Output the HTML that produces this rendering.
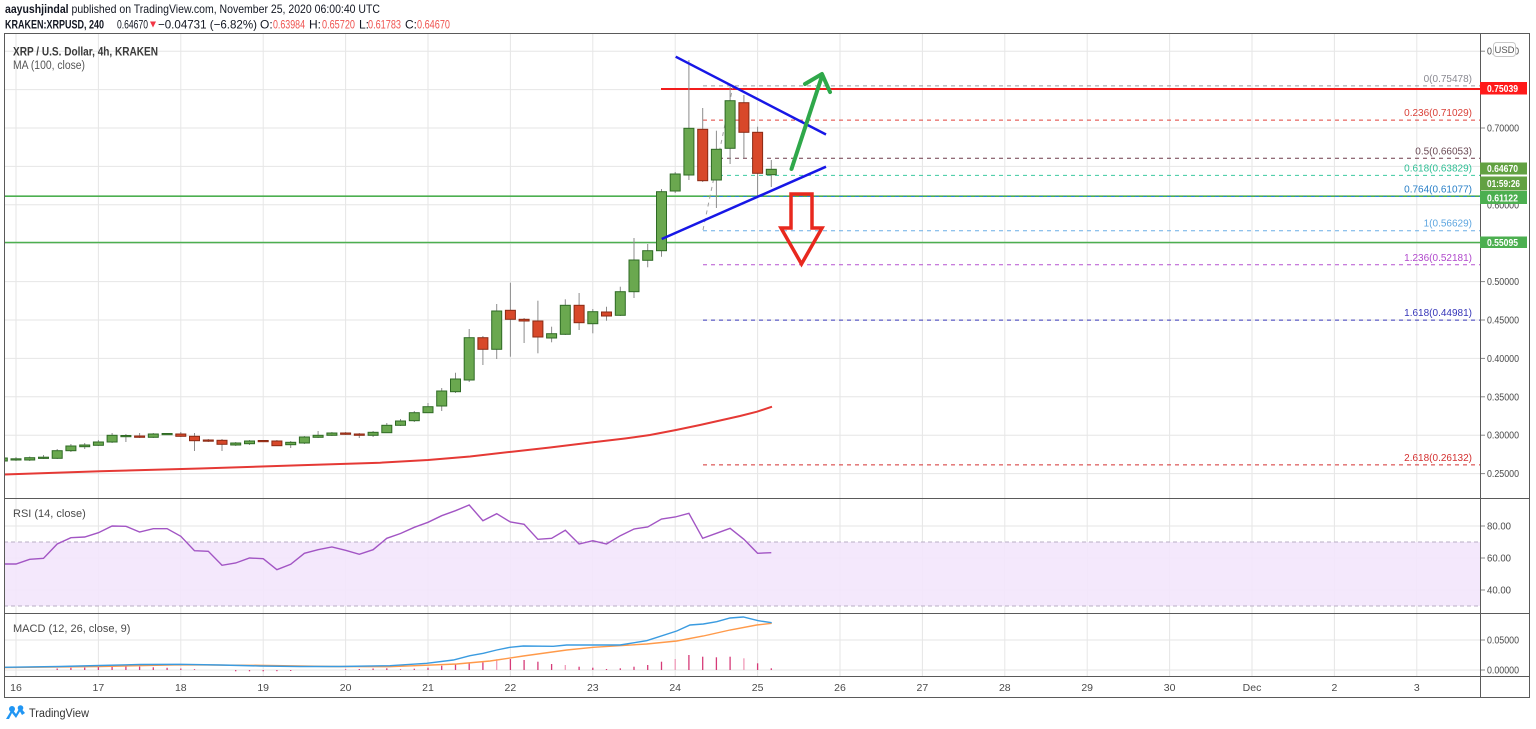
<!DOCTYPE html>
<html><head><meta charset="utf-8"><style>
html,body{margin:0;padding:0;background:#fff;}
svg{display:block;font-family:"Liberation Sans",sans-serif;}
.g line,.r line{stroke:#8c8c8c;stroke-width:1}
.g rect{fill:#6aa84f;stroke:#2f6a25;stroke-width:1}
.r rect{fill:#d8482a;stroke:#8a2a14;stroke-width:1}
.ax{font-size:10px;fill:#4a4a4a}
.xl{font-size:10.5px;fill:#4a4a4a;text-anchor:middle}
.fl{font-size:10px;text-anchor:end}
.bx{font-size:10px;fill:#fff;font-weight:bold}
</style></head><body>
<svg width="1536" height="729" viewBox="0 0 1536 729" xmlns="http://www.w3.org/2000/svg">
<rect width="1536" height="729" fill="#fff"/>
<defs><clipPath id="cm"><rect x="4" y="33" width="1476" height="465"/></clipPath>
<clipPath id="cr"><rect x="4" y="498" width="1476" height="115"/></clipPath>
<clipPath id="cd"><rect x="4" y="613" width="1476" height="63"/></clipPath></defs>

<!-- header -->
<text x="5" y="13" font-size="12" fill="#131722" textLength="375" lengthAdjust="spacingAndGlyphs"><tspan font-weight="bold">aayushjindal</tspan> published on TradingView.com, November 25, 2020 06:00:40 UTC</text>
<text x="5" y="28.5" font-size="12" font-weight="bold" fill="#131722" textLength="99" lengthAdjust="spacingAndGlyphs">KRAKEN:XRPUSD, 240</text>
<text x="117" y="28.5" font-size="12" fill="#131722" textLength="31" lengthAdjust="spacingAndGlyphs">0.64670</text>
<polygon points="150,21.5 156,21.5 153,27.5" fill="#f23645"/>
<text x="158" y="28.5" font-size="12" fill="#131722" textLength="99" lengthAdjust="spacingAndGlyphs">−0.04731 (−6.82%)</text>
<text x="260" y="28.5" font-size="12" fill="#131722">O:</text>
<text x="273" y="28.5" font-size="12" fill="#ef5350" textLength="32" lengthAdjust="spacingAndGlyphs">0.63984</text>
<text x="309" y="28.5" font-size="12" fill="#131722">H:</text>
<text x="322" y="28.5" font-size="12" fill="#ef5350" textLength="33" lengthAdjust="spacingAndGlyphs">0.65720</text>
<text x="359" y="28.5" font-size="12" fill="#131722">L:</text>
<text x="368" y="28.5" font-size="12" fill="#ef5350" textLength="33" lengthAdjust="spacingAndGlyphs">0.61783</text>
<text x="405" y="28.5" font-size="12" fill="#131722">C:</text>
<text x="417" y="28.5" font-size="12" fill="#ef5350" textLength="33" lengthAdjust="spacingAndGlyphs">0.64670</text>

<!-- grid -->
<g stroke="#e6e6e6" stroke-width="1">
<line x1="4" x2="1480" y1="51.2" y2="51.2"/><line x1="4" x2="1480" y1="89.6" y2="89.6"/><line x1="4" x2="1480" y1="128" y2="128"/><line x1="4" x2="1480" y1="166.4" y2="166.4"/><line x1="4" x2="1480" y1="204.8" y2="204.8"/><line x1="4" x2="1480" y1="243.2" y2="243.2"/><line x1="4" x2="1480" y1="281.6" y2="281.6"/><line x1="4" x2="1480" y1="320" y2="320"/><line x1="4" x2="1480" y1="358.4" y2="358.4"/><line x1="4" x2="1480" y1="396.8" y2="396.8"/><line x1="4" x2="1480" y1="435.2" y2="435.2"/><line x1="4" x2="1480" y1="473.6" y2="473.6"/>
<line x1="4" x2="1480" y1="526" y2="526"/><line x1="4" x2="1480" y1="558" y2="558"/><line x1="4" x2="1480" y1="590" y2="590"/>
<line x1="4" x2="1480" y1="640" y2="640"/><line x1="4" x2="1480" y1="670" y2="670"/>
<line x1="16" x2="16" y1="33" y2="676"/><line x1="98.4" x2="98.4" y1="33" y2="676"/><line x1="180.8" x2="180.8" y1="33" y2="676"/><line x1="263.2" x2="263.2" y1="33" y2="676"/><line x1="345.6" x2="345.6" y1="33" y2="676"/><line x1="428" x2="428" y1="33" y2="676"/><line x1="510.4" x2="510.4" y1="33" y2="676"/><line x1="592.8" x2="592.8" y1="33" y2="676"/><line x1="675.2" x2="675.2" y1="33" y2="676"/><line x1="757.6" x2="757.6" y1="33" y2="676"/><line x1="840" x2="840" y1="33" y2="676"/><line x1="922.4" x2="922.4" y1="33" y2="676"/><line x1="1004.8" x2="1004.8" y1="33" y2="676"/><line x1="1087.2" x2="1087.2" y1="33" y2="676"/><line x1="1169.6" x2="1169.6" y1="33" y2="676"/><line x1="1252" x2="1252" y1="33" y2="676"/><line x1="1334.4" x2="1334.4" y1="33" y2="676"/><line x1="1416.8" x2="1416.8" y1="33" y2="676"/>
</g>

<!-- RSI band -->
<rect x="4" y="542" width="1476" height="64" fill="#f3e5fc" opacity="0.9"/>
<g stroke="#b9aec4" stroke-width="1" stroke-dasharray="4,3"><line x1="4" x2="1480" y1="542" y2="542"/><line x1="4" x2="1480" y1="606" y2="606"/></g>

<!-- main chart content -->
<g clip-path="url(#cm)">
<!-- MA -->
<polyline fill="none" stroke="#e53935" stroke-width="2" points="4,474.5 100,471.3 200,468.5 300,465.3 380,462.7 428,460 470,456.5 512,451.7 550,447.5 593,442.3 625,438.5 650,435 676,430 700,425 720,420.5 740,416 757,411.7 772,406.7"/>
<!-- horizontal lines -->
<line x1="4" x2="1480" y1="196.2" y2="196.2" stroke="#4caf50" stroke-width="1.6"/>
<line x1="4" x2="1480" y1="242.5" y2="242.5" stroke="#4caf50" stroke-width="1.6"/>
<line x1="661" x2="1480" y1="89" y2="89" stroke="#f21c1c" stroke-width="2"/>
<!-- fib -->
<g stroke-width="1" stroke-dasharray="4,4">
<line x1="703" x2="1480" y1="85.9" y2="85.9" stroke="#9a9aa2"/>
<line x1="703" x2="1480" y1="120.1" y2="120.1" stroke="#e0403a"/>
<line x1="703" x2="1480" y1="158.3" y2="158.3" stroke="#6e3b4a"/>
<line x1="703" x2="1480" y1="175.4" y2="175.4" stroke="#3cc9a0"/>
<line x1="703" x2="1480" y1="196.5" y2="196.5" stroke="#2b86d0"/>
<line x1="703" x2="1480" y1="230.7" y2="230.7" stroke="#6aaee6"/>
<line x1="703" x2="1480" y1="264.8" y2="264.8" stroke="#b552d0"/>
<line x1="703" x2="1480" y1="320.1" y2="320.1" stroke="#3535b8"/>
<line x1="703" x2="1480" y1="464.9" y2="464.9" stroke="#d43030"/>
<line x1="703" x2="733" y1="230" y2="86" stroke="#a0a0a0"/>
</g>
<g>
<text class="fl" x="1472" y="82" fill="#8a8a92">0(0.75478)</text>
<text class="fl" x="1472" y="116" fill="#d94038">0.236(0.71029)</text>
<text class="fl" x="1472" y="154.3" fill="#6b4a55">0.5(0.66053)</text>
<text class="fl" x="1472" y="171.4" fill="#2fbf95">0.618(0.63829)</text>
<text class="fl" x="1472" y="192.5" fill="#2a80c8">0.764(0.61077)</text>
<text class="fl" x="1472" y="226.7" fill="#5ea6e0">1(0.56629)</text>
<text class="fl" x="1472" y="260.8" fill="#b048cc">1.236(0.52181)</text>
<text class="fl" x="1472" y="316.1" fill="#3535b8">1.618(0.44981)</text>
<text class="fl" x="1472" y="460.9" fill="#d43030">2.618(0.26132)</text>
</g>
<!-- candles -->
<g class="g"><line x1="2.3" x2="2.3" y1="457" y2="462"/><rect x="-2.7" y="458" width="10" height="3"/></g>
<g class="g"><line x1="16" x2="16" y1="457" y2="461"/><rect x="11" y="458.8" width="10" height="1.2"/></g>
<g class="g"><line x1="29.7" x2="29.7" y1="456.5" y2="461"/><rect x="24.7" y="457.7" width="10" height="2.3"/></g>
<g class="g"><line x1="43.5" x2="43.5" y1="455" y2="459"/><rect x="38.5" y="457.2" width="10" height="1.2"/></g>
<g class="g"><line x1="57.2" x2="57.2" y1="449" y2="459"/><rect x="52.2" y="450.7" width="10" height="7.6"/></g>
<g class="g"><line x1="70.9" x2="70.9" y1="444" y2="452"/><rect x="65.9" y="446" width="10" height="4.7"/></g>
<g class="g"><line x1="84.7" x2="84.7" y1="443" y2="449"/><rect x="79.7" y="445" width="10" height="1.7"/></g>
<g class="g"><line x1="98.4" x2="98.4" y1="440" y2="446"/><rect x="93.4" y="442" width="10" height="3.3"/></g>
<g class="g"><line x1="112.1" x2="112.1" y1="433" y2="443"/><rect x="107.1" y="435.3" width="10" height="6.7"/></g>
<g class="g"><line x1="125.9" x2="125.9" y1="434" y2="442"/><rect x="120.9" y="435.5" width="10" height="1.2"/></g>
<g class="r"><line x1="139.6" x2="139.6" y1="433" y2="438"/><rect x="134.6" y="436" width="10" height="1.3"/></g>
<g class="g"><line x1="153.3" x2="153.3" y1="433" y2="438"/><rect x="148.3" y="434" width="10" height="3.3"/></g>
<g class="g"><line x1="167.1" x2="167.1" y1="433" y2="435"/><rect x="162.1" y="433.5" width="10" height="1.2"/></g>
<g class="r"><line x1="180.8" x2="180.8" y1="432" y2="437"/><rect x="175.8" y="434" width="10" height="2.3"/></g>
<g class="r"><line x1="194.5" x2="194.5" y1="433" y2="451"/><rect x="189.5" y="436.3" width="10" height="4.4"/></g>
<g class="r"><line x1="208.3" x2="208.3" y1="439" y2="442"/><rect x="203.3" y="440" width="10" height="1.2"/></g>
<g class="r"><line x1="222" x2="222" y1="439" y2="451"/><rect x="217" y="440.3" width="10" height="4"/></g>
<g class="g"><line x1="235.7" x2="235.7" y1="442" y2="446"/><rect x="230.7" y="443" width="10" height="2"/></g>
<g class="g"><line x1="249.5" x2="249.5" y1="440" y2="445"/><rect x="244.5" y="441" width="10" height="2.7"/></g>
<g class="r"><line x1="263.2" x2="263.2" y1="440" y2="442"/><rect x="258.2" y="440.5" width="10" height="1.2"/></g>
<g class="r"><line x1="276.9" x2="276.9" y1="440" y2="446"/><rect x="271.9" y="441" width="10" height="4.7"/></g>
<g class="g"><line x1="290.7" x2="290.7" y1="441" y2="448"/><rect x="285.7" y="442.3" width="10" height="2.4"/></g>
<g class="g"><line x1="304.4" x2="304.4" y1="436" y2="444"/><rect x="299.4" y="437" width="10" height="6"/></g>
<g class="g"><line x1="318.1" x2="318.1" y1="431" y2="438"/><rect x="313.1" y="435.3" width="10" height="2"/></g>
<g class="g"><line x1="331.9" x2="331.9" y1="432" y2="436"/><rect x="326.9" y="433" width="10" height="2.3"/></g>
<g class="r"><line x1="345.6" x2="345.6" y1="432" y2="435"/><rect x="340.6" y="433" width="10" height="1.3"/></g>
<g class="r"><line x1="359.3" x2="359.3" y1="433" y2="438"/><rect x="354.3" y="434" width="10" height="1.3"/></g>
<g class="g"><line x1="373.1" x2="373.1" y1="431" y2="437"/><rect x="368.1" y="432.3" width="10" height="3"/></g>
<g class="g"><line x1="386.8" x2="386.8" y1="423" y2="433"/><rect x="381.8" y="425.3" width="10" height="7.4"/></g>
<g class="g"><line x1="400.5" x2="400.5" y1="419" y2="426"/><rect x="395.5" y="421" width="10" height="4.3"/></g>
<g class="g"><line x1="414.3" x2="414.3" y1="411" y2="422"/><rect x="409.3" y="412.7" width="10" height="8"/></g>
<g class="g"><line x1="428" x2="428" y1="403" y2="413"/><rect x="423" y="406.7" width="10" height="6"/></g>
<g class="g"><line x1="441.7" x2="441.7" y1="388" y2="411"/><rect x="436.7" y="391" width="10" height="15"/></g>
<g class="g"><line x1="455.5" x2="455.5" y1="372.7" y2="393"/><rect x="450.5" y="379" width="10" height="12.7"/></g>
<g class="g"><line x1="469.2" x2="469.2" y1="329" y2="382"/><rect x="464.2" y="337.7" width="10" height="42.3"/></g>
<g class="r"><line x1="482.9" x2="482.9" y1="336" y2="365"/><rect x="477.9" y="337.7" width="10" height="11.6"/></g>
<g class="g"><line x1="496.7" x2="496.7" y1="304" y2="359"/><rect x="491.7" y="311" width="10" height="38.3"/></g>
<g class="r"><line x1="510.4" x2="510.4" y1="282.7" y2="356.7"/><rect x="505.4" y="310.3" width="10" height="9"/></g>
<g class="r"><line x1="524.1" x2="524.1" y1="318" y2="343"/><rect x="519.1" y="319.3" width="10" height="1.7"/></g>
<g class="r"><line x1="537.9" x2="537.9" y1="300.7" y2="353.3"/><rect x="532.9" y="321" width="10" height="16"/></g>
<g class="g"><line x1="551.6" x2="551.6" y1="326.7" y2="342.3"/><rect x="546.6" y="333.7" width="10" height="4.3"/></g>
<g class="g"><line x1="565.3" x2="565.3" y1="299.3" y2="335"/><rect x="560.3" y="305.3" width="10" height="29"/></g>
<g class="r"><line x1="579.1" x2="579.1" y1="293" y2="330"/><rect x="574.1" y="305.3" width="10" height="17.4"/></g>
<g class="g"><line x1="592.8" x2="592.8" y1="309" y2="333.3"/><rect x="587.8" y="311.7" width="10" height="12"/></g>
<g class="r"><line x1="606.5" x2="606.5" y1="306.7" y2="320.7"/><rect x="601.5" y="312" width="10" height="4"/></g>
<g class="g"><line x1="620.3" x2="620.3" y1="286.7" y2="316"/><rect x="615.3" y="291.7" width="10" height="23.6"/></g>
<g class="g"><line x1="634" x2="634" y1="238" y2="298"/><rect x="629" y="260" width="10" height="31.7"/></g>
<g class="g"><line x1="647.7" x2="647.7" y1="244" y2="267.3"/><rect x="642.7" y="250.7" width="10" height="9.6"/></g>
<g class="g"><line x1="661.5" x2="661.5" y1="189" y2="256.7"/><rect x="656.5" y="191.7" width="10" height="59"/></g>
<g class="g"><line x1="675.2" x2="675.2" y1="172" y2="193"/><rect x="670.2" y="174" width="10" height="17"/></g>
<g class="g"><line x1="688.9" x2="688.9" y1="60" y2="180"/><rect x="683.9" y="128.3" width="10" height="46.7"/></g>
<g class="r"><line x1="702.7" x2="702.7" y1="108" y2="182"/><rect x="697.7" y="129.3" width="10" height="51.4"/></g>
<g class="g"><line x1="716.4" x2="716.4" y1="130.7" y2="208"/><rect x="711.4" y="149.3" width="10" height="30.7"/></g>
<g class="g"><line x1="730.1" x2="730.1" y1="86.7" y2="164"/><rect x="725.1" y="100.7" width="10" height="47.6"/></g>
<g class="r"><line x1="743.9" x2="743.9" y1="95" y2="158"/><rect x="738.9" y="102.7" width="10" height="29.6"/></g>
<g class="r"><line x1="757.6" x2="757.6" y1="126.7" y2="196.7"/><rect x="752.6" y="132.3" width="10" height="41"/></g>
<g class="g"><line x1="771.3" x2="771.3" y1="160" y2="187"/><rect x="766.3" y="169.3" width="10" height="5.4"/></g>
<!-- drawings -->
<line x1="675.7" y1="56.7" x2="826" y2="134.5" stroke="#1717e6" stroke-width="2.5"/>
<line x1="661.7" y1="239" x2="826" y2="166.7" stroke="#1717e6" stroke-width="2.5"/>
<g stroke="#2fa84a" stroke-width="4" fill="none" stroke-linecap="round" stroke-linejoin="round">
<line x1="791.5" y1="169" x2="822" y2="76"/>
<polyline points="805,84 822,74 830,92"/>
</g>
<polygon points="791,194 812,194 812,228 822,228 801.5,264 781,228 791,228" fill="none" stroke="#e8281e" stroke-width="3.5" stroke-linejoin="miter"/>
</g>

<!-- RSI -->
<g clip-path="url(#cr)">
<polyline fill="none" stroke="#a255c4" stroke-width="1.4" points="4,564 16,564 29.7,559.3 43.5,558.3 57.2,544 70.9,537.7 84.7,537 98.4,532.7 112.1,526 125.9,526.3 139.6,532 153.3,528.7 167.1,528.7 180.8,536.3 194.5,550.7 208.3,551.3 222,565.3 235.7,563 249.5,558 263.2,558.7 276.9,569.7 290.7,564.3 304.4,553.3 318.1,549.7 331.9,547 345.6,550.3 359.3,554.3 373.1,549.7 386.8,538.3 400.5,533.5 414.3,527.3 428,522.3 441.7,515.7 455.5,510.7 469.2,505 482.9,520.7 496.7,513.7 510.4,522 524.1,524.3 537.9,539.3 551.6,538.3 565.3,530.3 579.1,544 592.8,540.7 606.5,544 620.3,535.7 634,529 647.7,527 661.5,519 675.2,517 688.9,513.3 702.7,538.3 716.4,533.3 730.1,528.3 743.9,539.3 757.6,553.3 771.3,552.7"/>
</g>
<text x="13" y="517" font-size="11" fill="#4a4a4a">RSI (14, close)</text>

<!-- MACD -->
<g clip-path="url(#cd)">
<g stroke="#d63b78" stroke-width="1.3">
<line x1="57.2" x2="57.2" y1="670" y2="668.5"/><line x1="70.9" x2="70.9" y1="670" y2="667.8"/><line x1="84.7" x2="84.7" y1="670" y2="667.6"/><line x1="98.4" x2="98.4" y1="670" y2="667"/><line x1="112.1" x2="112.1" y1="670" y2="666.5"/><line x1="125.9" x2="125.9" y1="670" y2="666.3"/><line x1="139.6" x2="139.6" y1="670" y2="666.6"/><line x1="153.3" x2="153.3" y1="670" y2="667.3"/><line x1="167.1" x2="167.1" y1="670" y2="667.8"/><line x1="180.8" x2="180.8" y1="670" y2="668.5"/><line x1="194.5" x2="194.5" y1="670" y2="669.2"/><line x1="235.7" x2="235.7" y1="670" y2="671.3"/><line x1="249.5" x2="249.5" y1="670" y2="671.3"/><line x1="263.2" x2="263.2" y1="670" y2="671.3"/><line x1="276.9" x2="276.9" y1="670" y2="671.2"/><line x1="290.7" x2="290.7" y1="670" y2="671"/><line x1="345.6" x2="345.6" y1="670" y2="669.3"/><line x1="359.3" x2="359.3" y1="670" y2="669"/><line x1="373.1" x2="373.1" y1="670" y2="668.5"/><line x1="386.8" x2="386.8" y1="670" y2="668.3"/>
<line x1="400.5" x2="400.5" y1="670" y2="669.3"/><line x1="414.3" x2="414.3" y1="670" y2="668.7"/><line x1="428" x2="428" y1="670" y2="667.7"/><line x1="441.7" x2="441.7" y1="670" y2="665.7"/><line x1="455.5" x2="455.5" y1="670" y2="664.3"/><line x1="469.2" x2="469.2" y1="670" y2="663"/><line x1="482.9" x2="482.9" y1="670" y2="662.3"/><line x1="496.7" x2="496.7" y1="670" y2="659.3" stroke="#f09ab9"/><line x1="510.4" x2="510.4" y1="670" y2="659"/><line x1="524.1" x2="524.1" y1="670" y2="660"/><line x1="537.9" x2="537.9" y1="670" y2="661.7"/><line x1="551.6" x2="551.6" y1="670" y2="664"/><line x1="565.3" x2="565.3" y1="670" y2="665" stroke="#f09ab9"/><line x1="579.1" x2="579.1" y1="670" y2="666.7"/><line x1="592.8" x2="592.8" y1="670" y2="667.7"/><line x1="606.5" x2="606.5" y1="670" y2="669"/><line x1="620.3" x2="620.3" y1="670" y2="668.3"/><line x1="634" x2="634" y1="670" y2="666.7"/><line x1="647.7" x2="647.7" y1="670" y2="665"/><line x1="661.5" x2="661.5" y1="670" y2="661.7"/><line x1="675.2" x2="675.2" y1="670" y2="659" stroke="#f09ab9"/><line x1="688.9" x2="688.9" y1="670" y2="655"/><line x1="702.7" x2="702.7" y1="670" y2="656.7"/><line x1="716.4" x2="716.4" y1="670" y2="657.3"/><line x1="730.1" x2="730.1" y1="670" y2="656.7"/><line x1="743.9" x2="743.9" y1="670" y2="658.3" stroke="#f09ab9"/><line x1="757.6" x2="757.6" y1="670" y2="663.3"/><line x1="771.3" x2="771.3" y1="670" y2="668.3"/>
</g>
<polyline fill="none" stroke="#ff9a4a" stroke-width="1.4" points="4,667.5 100,666.5 180,664.8 260,665.3 330,666.5 390,666.7 456.7,664 490,661 523.3,656 566.7,650 593.3,647.3 646.7,644 676.7,641 703.3,636 730,630 756.7,625 771.7,623.3"/>
<polyline fill="none" stroke="#3a9be0" stroke-width="1.4" points="4,667.3 60,666.5 100,665.5 140,664.5 180,664.3 220,665 260,666 300,666.5 340,666.5 390,665.7 426.7,663.3 453.3,660 470,655.7 483.3,653.3 496.7,650 510,647.3 523.3,646 553.3,646.3 566.7,645 620,645 646.7,640.7 676.7,631 690,625 703.3,624 716.7,621.7 730,618 743.3,617 758.3,620.7 771.7,622.7"/>
</g>
<text x="13" y="632" font-size="11" fill="#4a4a4a">MACD (12, 26, close, 9)</text>

<!-- legend main -->
<text x="13" y="55.5" font-size="11.5" font-weight="bold" fill="#3a3a3a" textLength="145" lengthAdjust="spacingAndGlyphs">XRP / U.S. Dollar, 4h, KRAKEN</text>
<text x="13" y="69" font-size="11.5" fill="#555" textLength="72" lengthAdjust="spacingAndGlyphs">MA (100, close)</text>

<!-- frame -->
<g stroke="#5a5a5a" stroke-width="1" fill="none">
<rect x="4.5" y="33.5" width="1525" height="664"/>
<line x1="1480.5" x2="1480.5" y1="33" y2="698"/>
<line x1="4" x2="1530" y1="498.5" y2="498.5"/>
<line x1="4" x2="1530" y1="613.5" y2="613.5"/>
<line x1="4" x2="1530" y1="676.5" y2="676.5"/>
</g>

<!-- price axis ticks & labels -->
<g stroke="#888" stroke-width="1">
<line x1="1481" x2="1485" y1="51.2" y2="51.2"/><line x1="1481" x2="1485" y1="128" y2="128"/><line x1="1481" x2="1485" y1="281.6" y2="281.6"/><line x1="1481" x2="1485" y1="320" y2="320"/><line x1="1481" x2="1485" y1="358.4" y2="358.4"/><line x1="1481" x2="1485" y1="396.8" y2="396.8"/><line x1="1481" x2="1485" y1="435.2" y2="435.2"/><line x1="1481" x2="1485" y1="473.6" y2="473.6"/>
<line x1="1481" x2="1485" y1="526" y2="526"/><line x1="1481" x2="1485" y1="558" y2="558"/><line x1="1481" x2="1485" y1="590" y2="590"/><line x1="1481" x2="1485" y1="640" y2="640"/><line x1="1481" x2="1485" y1="670" y2="670"/>
</g>
<g class="ax">
<text x="1487" y="54.7" textLength="32" lengthAdjust="spacingAndGlyphs">0.80000</text>
<text x="1487" y="131.5" textLength="32" lengthAdjust="spacingAndGlyphs">0.70000</text>
<text x="1487" y="208.3" textLength="32" lengthAdjust="spacingAndGlyphs">0.60000</text>
<text x="1487" y="285.1" textLength="32" lengthAdjust="spacingAndGlyphs">0.50000</text>
<text x="1487" y="323.5" textLength="32" lengthAdjust="spacingAndGlyphs">0.45000</text>
<text x="1487" y="361.9" textLength="32" lengthAdjust="spacingAndGlyphs">0.40000</text>
<text x="1487" y="400.3" textLength="32" lengthAdjust="spacingAndGlyphs">0.35000</text>
<text x="1487" y="438.7" textLength="32" lengthAdjust="spacingAndGlyphs">0.30000</text>
<text x="1487" y="477.1" textLength="32" lengthAdjust="spacingAndGlyphs">0.25000</text>
<text x="1487" y="529.5" textLength="24" lengthAdjust="spacingAndGlyphs">80.00</text>
<text x="1487" y="561.5" textLength="24" lengthAdjust="spacingAndGlyphs">60.00</text>
<text x="1487" y="593.5" textLength="24" lengthAdjust="spacingAndGlyphs">40.00</text>
<text x="1487" y="643.5" textLength="32" lengthAdjust="spacingAndGlyphs">0.05000</text>
<text x="1487" y="673.5" textLength="32" lengthAdjust="spacingAndGlyphs">0.00000</text>
</g>
<!-- USD button -->
<rect x="1493.5" y="42.5" width="22" height="14" rx="3" fill="#fff" stroke="#c8c8c8"/>
<text x="1504.5" y="53" font-size="9.5" fill="#555" text-anchor="middle">USD</text>

<!-- price boxes -->
<rect x="1480" y="82" width="47" height="12.5" fill="#ff1a1a"/>
<text class="bx" x="1487" y="91.8" textLength="31" lengthAdjust="spacingAndGlyphs">0.75039</text>
<rect x="1480" y="162.5" width="47" height="12" fill="#62a142"/>
<text class="bx" x="1487" y="172" textLength="31" lengthAdjust="spacingAndGlyphs">0.64670</text>
<rect x="1480" y="176.5" width="47" height="14" fill="#62a142"/>
<text class="bx" x="1487" y="187" font-weight="normal" textLength="33" lengthAdjust="spacingAndGlyphs">01:59:26</text>
<rect x="1480" y="191" width="47" height="13" fill="#4caf50"/>
<text class="bx" x="1487" y="201.3" textLength="31" lengthAdjust="spacingAndGlyphs">0.61122</text>
<rect x="1480" y="236.5" width="47" height="11.5" fill="#4caf50"/>
<text class="bx" x="1487" y="245.8" textLength="31" lengthAdjust="spacingAndGlyphs">0.55095</text>

<!-- x axis labels -->
<g class="xl">
<text x="16" y="691">16</text><text x="98.4" y="691">17</text><text x="180.8" y="691">18</text><text x="263.2" y="691">19</text><text x="345.6" y="691">20</text><text x="428" y="691">21</text><text x="510.4" y="691">22</text><text x="592.8" y="691">23</text><text x="675.2" y="691">24</text><text x="757.6" y="691">25</text><text x="840" y="691">26</text><text x="922.4" y="691">27</text><text x="1004.8" y="691">28</text><text x="1087.2" y="691">29</text><text x="1169.6" y="691">30</text><text x="1252" y="691">Dec</text><text x="1334.4" y="691">2</text><text x="1416.8" y="691">3</text>
</g>

<!-- TradingView logo -->
<g>
<path d="M6,719 L12,709 L16,714 L20,707 L25,713 L22,715 L20,711.5 L16,718 L12,713 L9,719 Z" fill="#2196f3"/>
<circle cx="12" cy="709" r="3" fill="#2196f3"/><circle cx="20.5" cy="708" r="2.8" fill="#2196f3"/>
<text x="29" y="717" font-size="11.5" fill="#333" textLength="60" lengthAdjust="spacingAndGlyphs">TradingView</text>
</g>
</svg>
</body></html>
